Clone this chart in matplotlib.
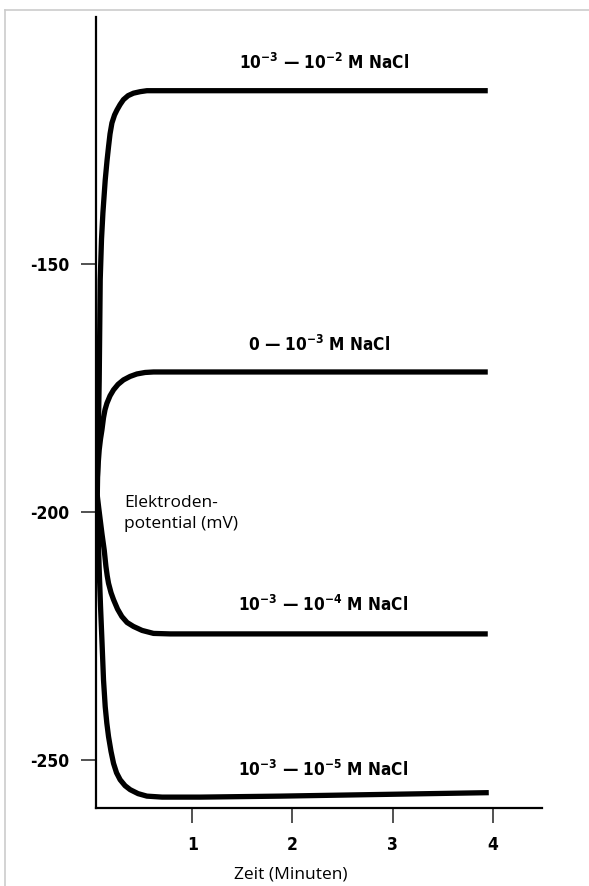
import matplotlib.pyplot as plt
from matplotlib.lines import Line2D
from matplotlib import font_manager

# schmale fette Schrift, falls vorhanden
narrow = None
for name in ['Liberation Sans Narrow', 'DejaVu Sans Condensed']:
    try:
        font_manager.findfont(name, fallback_to_default=False)
        narrow = name
        break
    except Exception:
        pass

bold_family = [narrow, 'DejaVu Sans'] if narrow else ['DejaVu Sans']
plt.rcParams['font.family'] = bold_family
plt.rcParams['font.stretch'] = 'condensed'
plt.rcParams['mathtext.fontset'] = 'custom'
plt.rcParams['mathtext.rm'] = (narrow or 'DejaVu Sans') + ':bold'
plt.rcParams['mathtext.it'] = (narrow or 'DejaVu Sans') + ':bold'
plt.rcParams['mathtext.bf'] = (narrow or 'DejaVu Sans') + ':bold'
plt.rcParams['mathtext.default'] = 'rm'

# Werte (Zeit in Minuten, Potential in mV)
t_a = [0.052, 0.062, 0.072, 0.082, 0.095, 0.109, 0.132, 0.15, 0.165, 0.18, 0.199, 0.225, 0.249, 0.28, 0.314, 0.36, 0.414, 0.48, 0.548, 0.78, 3.95]
u_a = [-197.6, -185.5, -173.4, -153.2, -145.0, -139.7, -133.1, -129.2, -126.4, -123.8, -121.6, -120.0, -119.0, -117.9, -116.9, -116.1, -115.6, -115.3, -115.1, -115.1, -115.1]

t_b = [0.047, 0.052, 0.062, 0.072, 0.085, 0.099, 0.115, 0.13, 0.149, 0.18, 0.215, 0.26, 0.314, 0.38, 0.448, 0.53, 0.614, 3.95]
u_b = [-197.6, -193.5, -190.2, -187.5, -185.3, -183.5, -181.0, -179.4, -178.1, -176.6, -175.4, -174.3, -173.4, -172.7, -172.2, -171.9, -171.8, -171.8]

t_c = [0.052, 0.066, 0.082, 0.1, 0.122, 0.139, 0.152, 0.165, 0.19, 0.215, 0.255, 0.298, 0.35, 0.414, 0.5, 0.614, 0.78, 3.95]
u_c = [-196.6, -199.0, -201.6, -204.5, -207.7, -211.0, -212.9, -214.4, -216.3, -217.7, -219.6, -221.1, -222.3, -223.1, -223.9, -224.5, -224.6, -224.6]

t_d = [0.052, 0.062, 0.072, 0.085, 0.099, 0.115, 0.132, 0.148, 0.165, 0.19, 0.215, 0.245, 0.281, 0.33, 0.381, 0.46, 0.548, 0.7, 1.08, 1.88, 3.96]
u_d = [-197.6, -205.0, -211.7, -219.0, -225.8, -233.9, -239.3, -242.6, -245.3, -248.3, -250.7, -252.6, -254.0, -255.2, -256.0, -256.8, -257.3, -257.5, -257.5, -257.3, -256.6]

labels = [r'10$^{-3}$ — 10$^{-2}$ M NaCl',
          r'0 — 10$^{-3}$ M NaCl',
          r'10$^{-3}$ — 10$^{-4}$ M NaCl',
          r'10$^{-3}$ — 10$^{-5}$ M NaCl']
label_x = [2.32, 2.27, 2.31, 2.31]
label_y = [-109.5, -166.3, -218.7, -252.0]

xticks = [1, 2, 3, 4]
yticks = [-150, -200, -250]

fig = plt.figure(figsize=(5.89, 8.86), dpi=100)
ax = fig.add_axes([0.163, 0.088, 0.757, 0.8925])

for t, u in [(t_a, u_a), (t_b, u_b), (t_c, u_c), (t_d, u_d)]:
    ax.plot(t, u, color='black', lw=3.8, solid_capstyle='butt', solid_joinstyle='round')

for s, x, y in zip(labels, label_x, label_y):
    ax.text(x, y, s, ha='center', va='center', fontsize=12.3, fontweight='bold')

ax.text(0.32, -200.3, 'Elektroden-\npotential (mV)', fontsize=12.5, family=['Open Sans', 'DejaVu Sans'],
        fontstretch='normal', ha='left', va='center', linespacing=1.45)

ax.set_xlim(0.04, 4.49)
ax.set_ylim(-259.7, -100.3)
ax.set_xticks(xticks)
ax.set_xticklabels([str(v) for v in xticks], fontsize=12.5, fontweight='bold')
ax.set_yticks(yticks)
ax.set_yticklabels([str(v) for v in yticks], fontsize=12.5, fontweight='bold')
ax.tick_params(axis='both', direction='out', length=11, width=1.2, color='#333333', pad=8)
ax.tick_params(axis='x', pad=9)

for side in ['top', 'right']:
    ax.spines[side].set_visible(False)
for side in ['left', 'bottom']:
    ax.spines[side].set_linewidth(1.6)

ax.set_xlabel('Zeit (Minuten)', fontsize=12.5, family=['Open Sans', 'DejaVu Sans'], fontstretch='normal')
ax.xaxis.set_label_coords(0.437, -0.074)

# grauer Rahmen oben und links
fig.add_artist(Line2D([0.0085, 0.0085], [0, 0.989], transform=fig.transFigure, color='#cccccc', lw=1.2))
fig.add_artist(Line2D([0.0085, 1], [0.989, 0.989], transform=fig.transFigure, color='#cccccc', lw=1.2))

fig.savefig('out.png', dpi=100)
